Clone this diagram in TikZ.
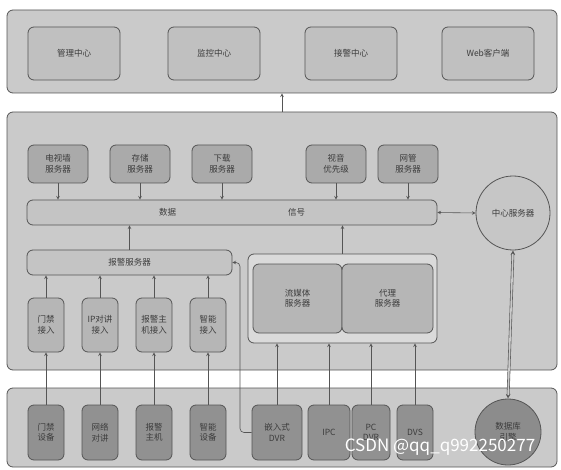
\documentclass[tikz,border=0pt]{standalone}
\usepackage{fontspec}
\setmainfont{Noto Sans CJK SC}
\usetikzlibrary{arrows, positioning, calc}
\definecolor{linegray}{RGB}{85,85,85}
\definecolor{textgray}{RGB}{60,60,60}
\definecolor{panelgray}{RGB}{202,202,202}
\definecolor{topgray}{RGB}{192,192,192}
\definecolor{srvgray}{RGB}{170,170,170}
\definecolor{bargray}{RGB}{196,196,196}
\definecolor{accgray}{RGB}{182,182,182}
\definecolor{grpgray}{RGB}{218,218,218}
\definecolor{devgray}{RGB}{145,145,145}
\definecolor{ctrgray}{RGB}{198,198,198}
\definecolor{dbgray}{RGB}{140,140,140}

\begin{document}
\begin{tikzpicture}[x=1pt, y=-1pt, >=stealth, font=\fontsize{8.5}{10.5}\selectfont]
	\tikzstyle{Panel} = [ %the three big layers
		draw=linegray, 
		fill=panelgray, 
		rounded corners=6pt, 
		thick
	]
	\tikzstyle{Box} = [
		draw=linegray, 
		rounded corners=6pt, 
		thick, 
		align=center, 
		text=textgray, 
		inner sep=0pt
	]
	\tikzstyle{TopBox} = [Box, fill=topgray, minimum width=92pt, minimum height=53pt]
	\tikzstyle{SrvBox} = [Box, fill=srvgray, minimum width=60pt, minimum height=38pt]
	\tikzstyle{Bar} = [Box, fill=bargray, minimum height=25pt]
	\tikzstyle{AccBox} = [Box, fill=accgray, minimum width=36pt, minimum height=54pt]
	\tikzstyle{DevBox} = [Box, fill=devgray, minimum height=55pt]
	\tikzstyle{CircNode} = [circle, draw=linegray, thick, align=center, text=textgray, inner sep=0pt]
	\tikzstyle{Arr} = [->, semithick, draw=linegray]
	
	\useasboundingbox (0,0) rectangle (561,470);
	
	\node[Panel, minimum width=550pt, minimum height=83pt] (top) at (282,51.5) {};
	\node[Panel, minimum width=550pt, minimum height=258pt] (mid) at (282,241) {};
	\node[Panel, minimum width=550pt, minimum height=79pt] (bot) at (282,427.5) {};
	
	% top layer
	\node[TopBox] (mgr) at (74,53.5) {管理中心};
	\node[TopBox] (mon) at (214,53.5) {监控中心};
	\node[TopBox] (rcv) at (351,53.5) {接警中心};
	\node[TopBox] (web) at (488,53.5) {Web客户端};
	
	% middle layer
	\node[SrvBox] (tvw) at (58,164) {电视墙\\服务器};
	\node[SrvBox] (sto) at (140,164) {存储\\服务器};
	\node[SrvBox] (dld) at (222,164) {下载\\服务器};
	\node[SrvBox] (pri) at (336,164) {视音\\优先级};
	\node[SrvBox] (nms) at (408,164) {网管\\服务器};
	\node[Bar, minimum width=410pt] (bus) at (232,212.5) {数据\hspace{112pt}信号};
	\node[CircNode, fill=ctrgray, minimum size=74pt] (ctr) at (513,213) {中心服务器};
	\node[Bar, minimum width=205pt] (alm) at (129.5,262.5) {报警服务器};
	\node[AccBox] (acc1) at (46,325) {门禁\\接入};
	\node[AccBox] (acc2) at (100,325) {IP对讲\\接入};
	\node[AccBox] (acc3) at (154,325) {报警主\\机接入};
	\node[AccBox] (acc4) at (208,325) {智能\\接入};
	\node[Box, fill=grpgray, minimum width=189pt, minimum height=89pt] (grp) at (342.5,298.5) {};
	\node[Box, fill=accgray, minimum width=89pt, minimum height=69pt] (sms) at (297.5,298.5) {流媒体\\服务器};
	\node[Box, fill=accgray, minimum width=91pt, minimum height=69pt] (prx) at (387.5,298.5) {代理\\服务器};
	
	% bottom layer
	\node[DevBox, minimum width=36pt] (dev1) at (46,432.5) {门禁\\设备};
	\node[DevBox, minimum width=36pt] (dev2) at (100,432.5) {网络\\对讲};
	\node[DevBox, minimum width=36pt] (dev3) at (154,432.5) {报警\\主机};
	\node[DevBox, minimum width=36pt] (dev4) at (208,432.5) {智能\\设备};
	\node[DevBox, minimum width=50pt] (dvr) at (277,432.5) {嵌入式\\DVR};
	\node[DevBox, minimum width=42pt] (ipc) at (329,432.5) {IPC};
	\node[DevBox, minimum width=38pt] (pcd) at (371,432.5) {PC\\DVR};
	\node[DevBox, minimum width=36pt] (dvs) at (415,432.5) {DVS};
	\node[CircNode, fill=dbgray, minimum size=66pt] (db) at (508,432) {数据库\\引擎};
	
	% connectors
	\draw[Arr] (mid.north) -- (top.south);
	\foreach \s in {tvw,sto,dld,pri,nms}
		\draw[Arr] (\s.south) -- (\s.south |- bus.north);
	\draw[Arr, <->] (bus.east) -- (ctr.west);
	\draw[Arr] (alm.north) -- (alm.north |- bus.south);
	\draw[Arr] (grp.north) -- (grp.north |- bus.south);
	\foreach \a in {1,...,4} {
		\draw[Arr] (acc\a.north) -- (acc\a.north |- alm.south);
		\draw[Arr] (dev\a.north) -- (acc\a.south);
	}
	\foreach \d in {dvr,ipc,pcd,dvs}
		\draw[Arr] (\d.north) -- (\d.north |- grp.south);
	\coordinate (bend) at (240,262.5);
	\draw[Arr, rounded corners=4pt] (dvr.west) -| (bend) -- (alm.east);
	\draw[<->, semithick, draw=linegray, double=panelgray, double distance=1.6pt] (ctr.south) -- (db.north);
	
	\node[text=white, font=\fontsize{17}{17}\selectfont] (wm) at (440,447) {CSDN @qq\_q992250277};
\end{tikzpicture}
\end{document}
